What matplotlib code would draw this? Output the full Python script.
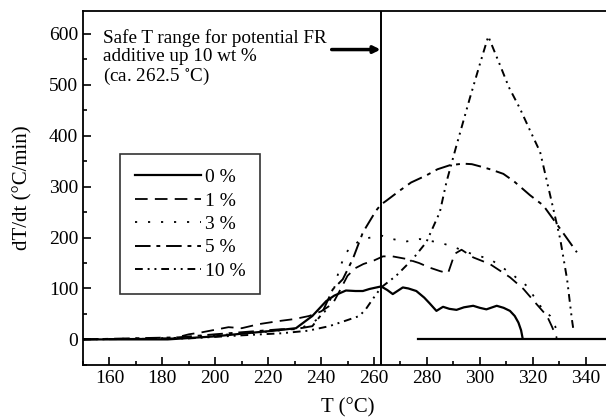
import matplotlib
matplotlib.use("Agg")
import matplotlib.pyplot as plt
from matplotlib.ticker import MultipleLocator

plt.rcParams['font.family'] = ['Liberation Serif', 'DejaVu Serif']
plt.rcParams['mathtext.fontset'] = 'stix'

# data (T in degC, dT/dt in degC/min)
t_0 = [150, 182, 200, 211.5, 222, 230.5, 236.7, 241.9, 245, 249.4, 253, 255.8, 258.3,
       262.7, 265, 267.1, 270.9, 273, 276, 279, 281, 283.6, 286.1, 288.5, 291.2, 294,
       297.5, 300, 302.5, 306.4, 309, 311.4, 313.2, 314.6, 315.6, 316.2]
v_0 = [0, 0, 6, 12, 17, 22, 46, 75, 86, 96, 95, 95, 99,
       104, 97, 89, 102, 100, 95, 82, 71, 56, 64, 60, 58, 63,
       66, 62, 59, 66, 62, 56, 46, 33, 18, 2]

t_1 = [150, 184, 190, 195, 205, 210, 216.5, 224, 230, 235.5, 240, 244.4, 247, 250, 253,
       256, 260, 263.4, 267, 272.2, 277, 281, 285, 288, 290.5, 293.1, 297.5, 303.8,
       311.4, 316.5, 321.5, 325.4, 327.2, 329.1]
v_1 = [0, 2, 10, 14, 24, 22, 30, 36, 40, 46, 55, 70, 95, 125, 140,
       148, 155, 163, 163, 158, 150, 141, 134, 130, 168, 176, 161, 148,
       122, 99, 69, 46, 26, 3]

t_3 = [150, 185, 200, 215, 225, 232, 236, 240, 242, 244.4, 247, 249.4, 252, 255.8,
       262.7, 267, 272, 277.3, 284.9, 290, 293.7, 298, 303.8, 311.4, 317.8, 322.8,
       326.6, 328.5, 329.5]
v_3 = [0, 3, 8, 13, 18, 22, 30, 45, 59, 90, 140, 170, 185, 197,
       204, 197, 192, 197, 190, 182, 174, 166, 158, 131, 105, 66,
       46, 26, 5]

t_5 = [150, 186, 200, 215, 225, 230, 236.7, 240, 244.4, 248.2, 252, 255.8, 260.8,
       262.7, 264.6, 269.7, 274, 279.8, 284, 288.7, 293.7, 297, 301.3, 304.5, 308.9,
       313, 319, 324, 330.4, 336.7]
v_5 = [0, 4, 10, 16, 20, 20, 26, 48, 98, 118, 158, 210, 253,
       265, 272, 292, 308, 322, 334, 342, 345, 344, 338, 333, 325,
       310, 283, 263, 217, 171]

t_10 = [150, 190, 210, 225, 235, 243.1, 250, 254.5, 257, 259.5, 262.7, 268.4, 274.7,
        279.8, 284.9, 287.4, 291.2, 296.2, 300, 303.2, 307.6, 311, 315.2, 319, 322.8,
        326.6, 330.4, 333, 334.8, 335.5]
v_10 = [0, 2, 8, 12, 17, 26, 38, 46, 60, 79, 102, 125, 158,
        191, 250, 309, 381, 473, 540, 595, 539, 495, 453, 410, 368,
        283, 197, 118, 40, 15]

t_base = [276.5, 350]
v_base = [0, 0]

labels = ['0 %', '1 %', '3 %', '5 %', '10 %']
t_safe = 262.5

fig = plt.figure(figsize=(6.06, 4.17), dpi=100)
ax = fig.add_axes([0.137, 0.125, 0.873, 0.849])

ax.plot(t_0, v_0, color='black', lw=1.6, ls='-', label=labels[0])
ax.plot(t_1, v_1, color='black', lw=1.3, ls=(0, (7, 4)), label=labels[1])
ax.plot(t_3, v_3, color='black', lw=1.3, ls=(0, (1.2, 6)), label=labels[2])
ax.plot(t_5, v_5, color='black', lw=1.4, ls=(0, (8, 3, 2, 3)), label=labels[3])
ax.plot(t_10, v_10, color='black', lw=1.4, ls=(0, (4, 2.5, 1, 2.5, 1, 2.5)), label=labels[4])
ax.plot(t_base, v_base, color='black', lw=1.6)

ax.axvline(t_safe, color='black', lw=1.4)

ax.annotate('', xy=(t_safe, 569), xytext=(244, 569),
            arrowprops=dict(arrowstyle='-|>', color='black', lw=2.5,
                            mutation_scale=10, shrinkA=0, shrinkB=0))
ax.text(157.4, 610, 'Safe T range for potential FR\nadditive up 10 wt %\n(ca. 262.5 $^{\\circ}$C)',
        fontsize=13.8, va='top', ha='left', linespacing=1.1)

ax.set_xlim(150, 350)
ax.set_ylim(-50, 645)
ax.xaxis.set_major_locator(MultipleLocator(20))
ax.xaxis.set_minor_locator(MultipleLocator(10))
ax.yaxis.set_major_locator(MultipleLocator(100))
ax.yaxis.set_minor_locator(MultipleLocator(50))
ax.tick_params(which='both', direction='in', labelsize=14, width=1.2)
ax.tick_params(which='major', length=6)
ax.tick_params(which='minor', length=3)
for s in ax.spines.values():
    s.set_linewidth(1.3)

ax.set_xlabel('T (°C)', fontsize=15, labelpad=8)
ax.set_ylabel('dT/dt (°C/min)', fontsize=15, labelpad=12)

leg = ax.legend(loc='upper left', bbox_to_anchor=(0.07, 0.596), fontsize=14,
                handlelength=3.4, handletextpad=0.2, labelspacing=0.3,
                frameon=True, fancybox=False, edgecolor='black', borderpad=0.75,
                borderaxespad=0)
leg.get_frame().set_linewidth(1.2)

fig.savefig('out.png', dpi=100)
